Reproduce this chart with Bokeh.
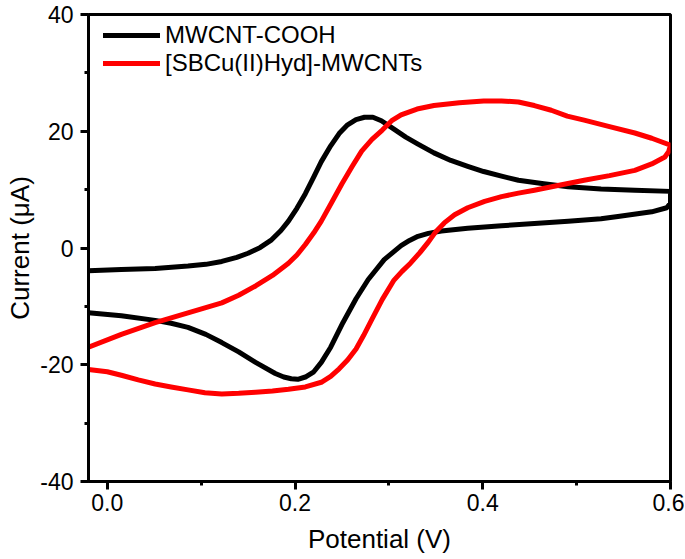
from bokeh.plotting import figure
from bokeh.models import Range1d, FixedTicker, PrintfTickFormatter, Legend, LegendItem
from bokeh.embed import file_html
from bokeh.resources import INLINE

# MWCNT-COOH (forward scan then reverse scan)
black_x = [-0.02, 0.015, 0.051, 0.086, 0.105, 0.122, 0.138, 0.15, 0.163, 0.175, 0.185,
           0.193, 0.202, 0.211, 0.22, 0.228, 0.238, 0.247, 0.256, 0.265, 0.274, 0.283,
           0.292, 0.305, 0.318, 0.331, 0.348, 0.366, 0.384, 0.401, 0.42, 0.438, 0.465,
           0.491, 0.526, 0.562, 0.6,
           0.6, 0.596, 0.58, 0.544, 0.526, 0.491, 0.455, 0.42, 0.384, 0.366, 0.356,
           0.342, 0.331, 0.322, 0.313, 0.304, 0.295, 0.287, 0.278, 0.265, 0.251,
           0.238, 0.228, 0.22, 0.211, 0.203, 0.196, 0.188, 0.179, 0.158, 0.14, 0.122,
           0.105, 0.086, 0.068, 0.051, 0.015, -0.02]
black_y = [-3.9, -3.7, -3.5, -3.1, -2.8, -2.3, -1.6, -0.9, 0.1, 1.4, 3.0,
           4.6, 6.8, 9.3, 12.2, 14.8, 17.5, 19.6, 21.1, 22.0, 22.4, 22.4,
           21.8, 20.4, 19.0, 17.8, 16.3, 15.0, 14.0, 13.1, 12.3, 11.6, 11.0,
           10.5, 10.1, 9.9, 9.7,
           7.7, 6.9, 6.2, 5.4, 5.0, 4.6, 4.2, 3.8, 3.4, 3.1, 2.9,
           2.5, 2.0, 1.3, 0.4, -0.8, -2.0, -3.6, -5.4, -8.7, -12.8,
           -17.0, -19.6, -21.2, -22.1, -22.5, -22.4, -22.1, -21.5, -19.6, -17.8, -16.2,
           -14.8, -13.6, -12.9, -12.4, -11.6, -11.1]

# [SBCu(II)Hyd]-MWCNTs
red_x = [-0.02, 0.015, 0.051, 0.086, 0.122, 0.14, 0.158, 0.176, 0.193, 0.202, 0.211,
         0.22, 0.228, 0.239, 0.25, 0.261, 0.271, 0.282, 0.293, 0.303, 0.313, 0.33,
         0.348, 0.375, 0.401, 0.42, 0.438, 0.455, 0.473, 0.49, 0.508, 0.535, 0.562,
         0.58, 0.6,
         0.598, 0.594, 0.58, 0.562, 0.535, 0.508, 0.48, 0.455, 0.438, 0.42, 0.402,
         0.384, 0.37, 0.359, 0.35, 0.342, 0.333, 0.323, 0.314, 0.305, 0.293, 0.282,
         0.273, 0.265, 0.256, 0.247, 0.238, 0.228, 0.211, 0.193, 0.176, 0.158, 0.14,
         0.122, 0.104, 0.086, 0.068, 0.051, 0.033, 0.015, 0.0, -0.02]
red_y = [-17.0, -14.8, -12.8, -11.1, -9.4, -8.1, -6.5, -4.7, -2.6, -1.2, 0.6,
         2.6, 4.6, 7.8, 11.0, 14.0, 16.6, 18.6, 20.2, 21.8, 22.8, 23.8,
         24.4, 24.9, 25.2, 25.2, 25.0, 24.4, 23.6, 22.6, 21.9, 20.8, 19.7,
         18.8, 17.6,
         16.5, 15.6, 14.4, 13.3, 12.4, 11.6, 10.7, 9.9, 9.4, 8.8, 8.0,
         6.9, 5.7, 4.3, 2.8, 1.0, -0.8, -2.6, -4.0, -5.6, -8.8, -12.2,
         -15.0, -17.3, -19.2, -20.7, -22.0, -23.0, -23.8, -24.2, -24.5, -24.7, -24.9,
         -25.0, -24.8, -24.3, -23.8, -23.3, -22.6, -21.8, -21.2, -20.8]

x_ticks = [0.0, 0.2, 0.4, 0.6]
x_minor = [0.1, 0.3, 0.5]
y_ticks = [-40, -20, 0, 20, 40]
y_minor = [-30, -10, 10, 30]

FONT = "Liberation Sans"

p = figure(width=684, height=558, output_backend="svg", toolbar_location=None,
           x_range=Range1d(-0.02, 0.6), y_range=Range1d(-40, 40),
           min_border_left=88, min_border_right=14, min_border_top=14, min_border_bottom=77)
p.grid.visible = False
p.outline_line_color = "black"
p.outline_line_width = 3
p.background_fill_color = "white"
p.border_fill_color = "white"

r1 = p.line(black_x, black_y, line_color="black", line_width=5,
            line_join="round", line_cap="round")
r2 = p.line(red_x, red_y, line_color="#ff0000", line_width=5,
            line_join="round", line_cap="round")

for ax in (p.xaxis[0], p.yaxis[0]):
    ax.axis_line_width = 3
    ax.major_tick_line_width = 3
    ax.minor_tick_line_width = 3
    ax.major_tick_out = 8
    ax.major_tick_in = 0
    ax.minor_tick_out = 4
    ax.minor_tick_in = 0
    ax.major_label_text_font = FONT
    ax.major_label_text_font_size = "23px"
    ax.major_label_text_color = "black"
    ax.axis_label_text_font = FONT
    ax.axis_label_text_font_style = "normal"
    ax.axis_label_text_font_size = "26px"
    ax.axis_label_text_color = "black"

p.xaxis.ticker = FixedTicker(ticks=x_ticks, minor_ticks=x_minor)
p.yaxis.ticker = FixedTicker(ticks=y_ticks, minor_ticks=y_minor)
p.xaxis.formatter = PrintfTickFormatter(format="%.1f")
p.yaxis.formatter = PrintfTickFormatter(format="%d")
p.xaxis.major_label_standoff = 4
p.yaxis.major_label_standoff = 7
p.xaxis.axis_label = "Potential (V)"
p.yaxis.axis_label = "Current (μA)"
p.xaxis.axis_label_standoff = 10
p.yaxis.axis_label_standoff = 2

legend = Legend(items=[LegendItem(label="MWCNT-COOH", renderers=[r1]),
                       LegendItem(label="[SBCu(II)Hyd]-MWCNTs", renderers=[r2])],
                location=(15, 404), padding=0, margin=0, spacing=0,
                glyph_width=57, glyph_height=26, label_height=26, label_standoff=5,
                label_text_font=FONT, label_text_font_size="24px",
                label_text_color="black",
                border_line_color=None, background_fill_alpha=0)
p.add_layout(legend, "center")

open("out.html", "w").write(file_html(p, INLINE))
